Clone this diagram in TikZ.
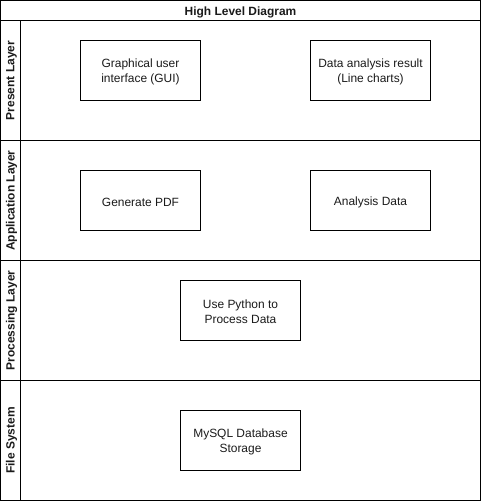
\documentclass[tikz,border=0pt]{standalone}
\usepackage{fontspec}
\setmainfont{Liberation Sans}
\usepackage{tikz}
\usetikzlibrary{positioning, calc}
\definecolor{LineBlack}{HTML}{000000}
\definecolor{TextDark}{HTML}{1A1A1A}

\tikzset{
    lane/.style={draw=LineBlack, line width=1bp},
    lanetitle/.style={font=\bfseries\fontsize{12}{15}\selectfont, text=TextDark, rotate=90},
    block/.style={draw=LineBlack, line width=1bp, minimum width=120bp, minimum height=60bp,
                  align=center, text=TextDark, font=\fontsize{12}{15}\selectfont, inner sep=0pt},
    blocktext/.style={align=center, text=TextDark, font=\fontsize{12}{15}\selectfont, inner sep=0pt},
}

\begin{document}
\begin{tikzpicture}[x=1bp, y=-1bp]
\useasboundingbox (0,0) rectangle (481,501);
% pool and lanes
\draw[lane] (0.5,0.5) rectangle (480.5,500.5);
\draw[lane] (0.5,20.5) -- (480.5,20.5);
\draw[lane] (0.5,140.5) -- (480.5,140.5);
\draw[lane] (0.5,260.5) -- (480.5,260.5);
\draw[lane] (0.5,380.5) -- (480.5,380.5);
\draw[lane] (20.5,20.5) -- (20.5,500.5);
\node[font=\bfseries\fontsize{12}{15}\selectfont, text=TextDark] (title) at (240.5,12) {High Level Diagram};
\node[lanetitle] (present) at (11.5,80.5) {Present Layer};
\node[lanetitle] (application) at (11.5,200.5) {Application Layer};
\node[lanetitle] (processing) at (11.5,320.5) {Processing Layer};
\node[lanetitle] (filesys) at (11.5,440.5) {File System};

% blocks
\node[block] (gui) at (140.5,70.5) {};
\node[blocktext] at ($(gui)+(0,1.5)$) {Graphical user\\interface (GUI)};
\node[block] (result) at (370.5,70.5) {};
\node[blocktext] at ($(result)+(0,1.5)$) {Data analysis result\\(Line charts)};
\node[block] (pdf) at (140.5,200.5) {};
\node[blocktext] at ($(pdf)+(0,1.5)$) {Generate PDF};
\node[block] (analysis) at (370.5,200.5) {};
\node[blocktext] at ($(analysis)+(0,1.5)$) {Analysis Data};
\node[block] (python) at (240.5,310.5) {};
\node[blocktext] at ($(python)+(0,1.5)$) {Use Python to\\Process Data};
\node[block] (mysql) at (240.5,440.5) {};
\node[blocktext] at ($(mysql)+(0,1.5)$) {MySQL Database\\Storage};
\end{tikzpicture}
\end{document}
